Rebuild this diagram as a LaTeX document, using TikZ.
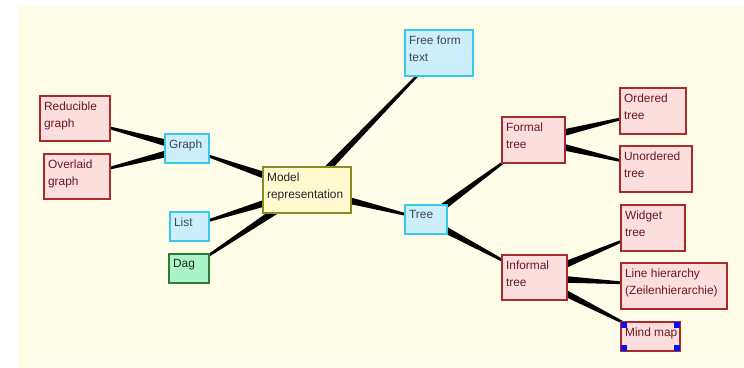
\documentclass[tikz,border=0pt]{standalone}
\usepackage{fontspec}
\setmainfont{Liberation Sans}
\usetikzlibrary{calc}

\definecolor{paper}{HTML}{FFFDE8}
\definecolor{pinkfill}{HTML}{FCDEDF}
\definecolor{pinkline}{HTML}{A82A2A}
\definecolor{pinktext}{HTML}{6A1A1A}
\definecolor{bluefill}{HTML}{CDEFFC}
\definecolor{blueline}{HTML}{38C8EC}
\definecolor{bluetext}{HTML}{3E4852}
\definecolor{rootfill}{HTML}{FFFACF}
\definecolor{rootline}{HTML}{8C8A22}
\definecolor{greenfill}{HTML}{AAF5C6}
\definecolor{greenline}{HTML}{2F7A34}
\definecolor{handle}{HTML}{0A10F0}

\pgfdeclarelayer{back}
\pgfsetlayers{back,main}

\tikzset{
  boxbase/.style={rectangle, line width=1.2pt, inner sep=0pt},
  pinkbox/.style={boxbase, draw=pinkline, fill=pinkfill},
  bluebox/.style={boxbase, draw=blueline, fill=bluefill},
  rootbox/.style={boxbase, draw=rootline, fill=rootfill},
  greenbox/.style={boxbase, draw=greenline, fill=greenfill},
  labelbase/.style={anchor=north west, align=left, inner xsep=4.5pt, inner ysep=6pt,
    font=\fontsize{11.9}{16.8}\selectfont},
  pinkboxtext/.style={labelbase, text=pinktext},
  blueboxtext/.style={labelbase, text=bluetext},
  rootboxtext/.style={labelbase, text=black!85},
  greenboxtext/.style={labelbase, text=black!85},
  linkfill/.style={fill=black},
  grip/.style={fill=handle, minimum size=6.5pt, inner sep=0pt, rectangle},
}

% box: name, x1, y1, x2, y2, style, text
\newcommand{\mmnode}[7]{%
  \node[#6, minimum width={#4-#2}, minimum height={#5-#3}] (#1) at ({(#2+#4)/2},{(#3+#5)/2}) {};
  \node[#6text] (#1-t) at (#1.north west) {#7};
}

% tapered link: thick at parent (#1), thin at child (#2)
\newcommand{\taper}[2]{%
  \path (#1) -- (#2) coordinate[pos=0] (tp-a) coordinate[pos=1] (tp-b);
  \coordinate (tp-a2) at ($(tp-a)!-4pt!(tp-b)$);
  \coordinate (tp-b2) at ($(tp-b)!-2pt!(tp-a)$);
  \fill[linkfill] ($(tp-a2)!3.4pt!90:(tp-b2)$) -- ($(tp-a2)!3.4pt!-90:(tp-b2)$)
    -- ($(tp-b2)!1.3pt!90:(tp-a2)$) -- ($(tp-b2)!1.3pt!-90:(tp-a2)$) -- cycle;
}

\begin{document}
\begin{tikzpicture}[x=1pt, y=-1pt]
  \useasboundingbox (0,0) rectangle (744,367);
  \begin{pgfonlayer}{back}
    \fill[paper] (18,6) rectangle (744,367);
  \end{pgfonlayer}

  % root
  \mmnode{model}{263}{167}{351}{213}{rootbox}{Model\\representation}

  % left side
  \mmnode{graph}{165}{134}{209}{163}{bluebox}{Graph}
  \mmnode{reducible}{40}{96}{110}{141}{pinkbox}{Reducible\\graph}
  \mmnode{overlaid}{44}{154}{110}{199}{pinkbox}{Overlaid\\graph}
  \mmnode{list}{170}{212}{209}{241}{bluebox}{List}
  \mmnode{dag}{169}{254}{209}{283}{greenbox}{Dag}

  % top
  \mmnode{freeform}{405}{30}{473}{76}{bluebox}{Free form\\text}

  % right side
  \mmnode{tree}{405}{205}{447}{234}{bluebox}{Tree}
  \mmnode{formal}{502}{117}{565}{163}{pinkbox}{Formal\\tree}
  \mmnode{ordered}{620}{88}{686}{134}{pinkbox}{Ordered\\tree}
  \mmnode{unordered}{620}{146}{692}{192}{pinkbox}{Unordered\\tree}
  \mmnode{informal}{502}{255}{567}{300}{pinkbox}{Informal\\tree}
  \mmnode{widget}{621}{205}{685}{251}{pinkbox}{Widget\\tree}
  \mmnode{linehier}{621}{263}{727}{309}{pinkbox}{Line hierarchy\\(Zeilenhierarchie)}
  \mmnode{mindmap}{621}{322}{680}{351}{pinkbox}{Mind map}

  % selection handles on the mind map box
  \node[grip, anchor=north west] (g1) at (mindmap.north west) {};
  \node[grip, anchor=north east] (g2) at (mindmap.north east) {};
  \node[grip, anchor=south west] (g3) at (mindmap.south west) {};
  \node[grip, anchor=south east] (g4) at (mindmap.south east) {};

  % links
  \begin{pgfonlayer}{back}
    \taper{model}{graph}
    \taper{model}{list}
    \taper{model}{dag}
    \taper{model}{freeform}
    \taper{model}{tree}
    \taper{graph}{reducible}
    \taper{graph}{overlaid}
    \taper{tree}{formal}
    \taper{tree}{informal}
    \taper{formal}{ordered}
    \taper{formal}{unordered}
    \taper{informal}{widget}
    \taper{informal}{linehier}
    \taper{informal}{mindmap}
  \end{pgfonlayer}
\end{tikzpicture}
\end{document}
